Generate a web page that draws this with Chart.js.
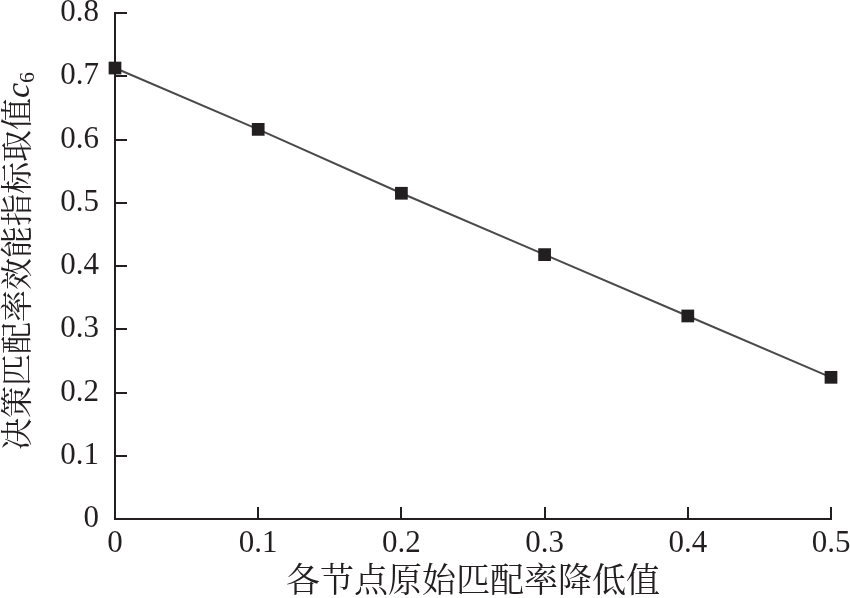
<!DOCTYPE html>
<html>
<head>
<meta charset="utf-8">
<script src="https://cdn.jsdelivr.net/npm/chart.js@4.4.0/dist/chart.umd.min.js"></script>
<style>
  html, body { margin: 0; padding: 0; background: #fff; }
  #wrap { width: 850px; height: 598px; }
</style>
</head>
<body>
<div id="wrap"><canvas id="chart"></canvas></div>
<script>
// data
const xValues = [0, 0.1, 0.2, 0.3, 0.4, 0.5];
const yValues = [0.713, 0.616, 0.515, 0.418, 0.321, 0.224];
const xTicks = [0, 0.1, 0.2, 0.3, 0.4, 0.5];
const yTicks = [0, 0.1, 0.2, 0.3, 0.4, 0.5, 0.6, 0.7, 0.8];
const xTitle = '各节点原始匹配率降低值';
const yTitle = '决策匹配率效能指标取值';

const ink = '#231f20';
const fontFam = "'Liberation Serif', 'Noto Serif CJK SC', 'Noto Sans CJK SC', serif";

const fmt = v => v === 0 ? '0' : v.toFixed(1);

// ticks drawn inward + y title with italic c and subscript 6
const decor = {
  id: 'decor',
  afterDraw(chart) {
    const c = chart.ctx;
    const xs = chart.scales.x, ys = chart.scales.y;
    const area = chart.chartArea;
    c.save();
    c.strokeStyle = ink;
    c.lineWidth = 2;
    c.beginPath();
    xTicks.forEach(v => {
      if (v === 0) return;
      const px = Math.round(xs.getPixelForValue(v));
      c.moveTo(px, area.bottom);
      c.lineTo(px, area.bottom - 12);
    });
    yTicks.forEach(v => {
      if (v === 0) return;
      const py = Math.round(ys.getPixelForValue(v));
      c.moveTo(area.left, py);
      c.lineTo(area.left + 12, py);
    });
    c.stroke();

    // y title
    c.translate(20, 261);
    c.rotate(-Math.PI / 2);
    c.fillStyle = ink;
    c.textBaseline = 'middle';
    c.font = "32px " + fontFam;
    const w1 = c.measureText(yTitle).width;
    c.font = "italic 34px " + fontFam;
    const w2 = c.measureText('c').width;
    c.font = "22px " + fontFam;
    const w3 = c.measureText('6').width;
    let x0 = -(w1 + w2 + w3) / 2;
    c.textAlign = 'left';
    c.font = "32px " + fontFam;
    c.fillText(yTitle, x0, 0);
    x0 += w1;
    c.font = "italic 34px " + fontFam;
    c.fillText('c', x0, 0);
    x0 += w2;
    c.font = "22px " + fontFam;
    c.fillText('6', x0, 8);
    c.restore();
  }
};

new Chart(document.getElementById('chart'), {
  type: 'scatter',
  data: {
    datasets: [{
      data: xValues.map((x, i) => ({ x: x, y: yValues[i] })),
      showLine: true,
      clip: false,
      borderColor: '#4a4a4a',
      borderWidth: 2,
      pointStyle: 'rect',
      pointRadius: 9,
      pointHoverRadius: 9,
      pointBackgroundColor: ink,
      pointBorderColor: ink,
      pointBorderWidth: 0
    }]
  },
  options: {
    responsive: true,
    maintainAspectRatio: false,
    animation: false,
    layout: { padding: { top: 13, right: 19, left: 0, bottom: 0 } },
    plugins: {
      legend: { display: false },
      tooltip: { enabled: false }
    },
    scales: {
      x: {
        type: 'linear',
        min: 0,
        max: 0.5,
        afterBuildTicks: s => { s.ticks = xTicks.map(v => ({ value: v })); },
        afterFit: s => { s.height = 79; s.paddingLeft = 0; s.paddingRight = 0; },
        grid: { display: false, drawTicks: false },
        border: { display: true, color: ink, width: 2 },
        ticks: {
          color: ink,
          padding: 6,
          maxRotation: 0,
          font: { family: fontFam, size: 31 },
          callback: fmt
        },
        title: {
          display: true,
          text: xTitle,
          color: ink,
          padding: { top: 0, bottom: -5 },
          font: { family: fontFam, size: 34 }
        }
      },
      y: {
        min: 0,
        max: 0.8,
        afterBuildTicks: s => { s.ticks = yTicks.map(v => ({ value: v })); },
        afterFit: s => { s.width = 115; s.paddingTop = 0; s.paddingBottom = 0; },
        grid: { display: false, drawTicks: false },
        border: { display: true, color: ink, width: 2 },
        ticks: {
          color: ink,
          padding: 16,
          font: { family: fontFam, size: 31 },
          callback: fmt
        }
      }
    }
  },
  plugins: [decor]
});
</script>
</body>
</html>
